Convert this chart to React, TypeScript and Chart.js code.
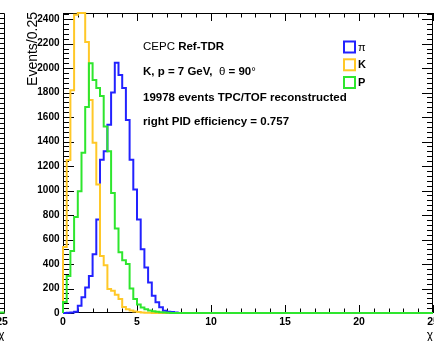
import React, { useEffect, useRef } from "react";
import { Chart, registerables } from "chart.js";

Chart.register(...registerables);

// ---- data ----
const BIN_WIDTH = 0.25;
const X_MIN = 0;
const X_MAX = 25;
const Y_MAX = 2450;

const xLabelTicks = [0, 5, 10, 15, 20, 25];
const xMinorStep = 1;
const yLabelTicks = [0, 200, 400, 600, 800, 1000, 1200, 1400, 1600, 1800, 2000, 2200, 2400];
const yMinorStep = 40;

// counts per 0.25 bin, starting at chi = 0
const piCounts = [0, 2, 5, 10, 60, 128, 209, 303, 480, 764, 1252, 1320, 1537, 1800, 2043, 1943, 1837, 1577, 1252, 1008, 764, 520, 371, 250, 141, 87, 46, 19, 10, 8, 5, 0];
const kCounts = [540, 1250, 1820, 2435, 2450, 2450, 2214, 1740, 1390, 1049, 466, 390, 195, 181, 150, 114, 49, 30, 20, 12, 8, 5, 3, 2, 0];
const pCounts = [90, 303, 507, 785, 994, 1309, 1683, 2040, 1902, 1837, 1772, 1523, 1320, 981, 690, 496, 430, 400, 200, 114, 70, 45, 30, 20, 15, 10, 6, 4, 2, 0];

const seriesNames = ["π", "K", "P"];
const seriesColors = ["#2222ff", "#ffc828", "#2ee62e"];

const yTitle = "Events/0.25";
const xTitle = "χ";

const FONT = '"Liberation Sans", Arial, Helvetica, sans-serif';

type Part = [string, boolean];
const infoLines: Part[][] = [
  [["CEPC ", false], ["Ref-TDR", true]],
  [["K, p = 7 GeV,  ", true], ["θ", false], [" = 90", true], ["°", false]],
  [["19978 events TPC/TOF reconstructed", true]],
  [["right PID efficiency = 0.757", true]],
];

function histPoints(counts: number[]) {
  const pts: { x: number; y: number }[] = [{ x: X_MIN, y: 0 }];
  counts.forEach((c, i) => pts.push({ x: X_MIN + i * BIN_WIDTH, y: c }));
  pts.push({ x: X_MIN + counts.length * BIN_WIDTH, y: 0 });
  pts.push({ x: X_MAX, y: 0 });
  return pts;
}

function drawRich(ctx: CanvasRenderingContext2D, x: number, y: number, parts: Part[], size: number) {
  let cx = x;
  ctx.textAlign = "left";
  ctx.textBaseline = "middle";
  for (const [t, b] of parts) {
    ctx.font = `${b ? "bold " : ""}${size}px ${FONT}`;
    ctx.fillText(t, cx, y);
    cx += ctx.measureText(t).width;
  }
}

const rootFramePlugin = {
  id: "rootFrame",
  beforeDatasetsDraw(chart: any) {
    const { ctx, chartArea: a, scales } = chart;
    const xs = scales.x;
    const ys = scales.y;
    ctx.save();
    ctx.fillStyle = "#000";
    ctx.strokeStyle = "#000";
    ctx.lineWidth = 1;
    ctx.strokeRect(a.left + 0.5, a.top + 0.5, a.right - a.left - 1, a.bottom - a.top - 1);
    ctx.beginPath();
    for (let v = 0; v <= Y_MAX; v += yMinorStep) {
      const y = Math.round(ys.getPixelForValue(v)) + 0.5;
      const len = yLabelTicks.includes(v) ? 11 : 6;
      ctx.moveTo(a.left, y);
      ctx.lineTo(a.left + len, y);
      ctx.moveTo(a.right, y);
      ctx.lineTo(a.right - len, y);
    }
    for (let v = X_MIN; v <= X_MAX; v += xMinorStep) {
      const x = Math.round(xs.getPixelForValue(v)) + 0.5;
      const len = xLabelTicks.includes(v) ? 8 : 4.5;
      ctx.moveTo(x, a.bottom);
      ctx.lineTo(x, a.bottom - len);
      ctx.moveTo(x, a.top);
      ctx.lineTo(x, a.top + len);
    }
    ctx.stroke();

    // tick labels
    ctx.font = `bold 10px ${FONT}`;
    ctx.textAlign = "right";
    ctx.textBaseline = "middle";
    yLabelTicks.forEach((v) => ctx.fillText(String(v), a.left - 3.5, ys.getPixelForValue(v)));
    ctx.font = `bold 10.5px ${FONT}`;
    ctx.textAlign = "center";
    xLabelTicks.forEach((v) => ctx.fillText(String(v), xs.getPixelForValue(v), a.bottom + 9));

    // axis titles
    ctx.font = `14px ${FONT}`;
    ctx.save();
    ctx.translate(36.5, a.top - 1);
    ctx.rotate(-Math.PI / 2);
    ctx.textAlign = "right";
    ctx.textBaseline = "alphabetic";
    ctx.fillText(yTitle, 0, 0);
    ctx.restore();
    ctx.font = `12px ${FONT}`;
    ctx.textAlign = "right";
    ctx.textBaseline = "middle";
    ctx.fillText(xTitle, a.right, 336);

    // neighbouring pad fragment at the far left
    ctx.beginPath();
    ctx.moveTo(4.5, a.top + 0.5);
    ctx.lineTo(4.5, a.bottom);
    ctx.moveTo(0, a.top + 0.5);
    ctx.lineTo(4.5, a.top + 0.5);
    for (let y = a.bottom - 0.5; y > a.top + 2; y -= 5) {
      ctx.moveTo(0, Math.round(y) + 0.5);
      ctx.lineTo(4.5, Math.round(y) + 0.5);
    }
    ctx.stroke();
    ctx.strokeStyle = seriesColors[2];
    ctx.lineWidth = 2;
    ctx.beginPath();
    ctx.moveTo(0, a.bottom - 0.5);
    ctx.lineTo(4.5, a.bottom - 0.5);
    ctx.stroke();
    ctx.font = `bold 10.5px ${FONT}`;
    ctx.textAlign = "center";
    ctx.fillText("25", 2, a.bottom + 9);
    ctx.font = `12px ${FONT}`;
    ctx.textAlign = "right";
    ctx.fillText(xTitle, 4.5, 336);
    ctx.restore();
  },
  afterDatasetsDraw(chart: any) {
    const { ctx } = chart;
    ctx.save();
    ctx.fillStyle = "#000";
    const lineY = [47.3, 71.7, 98.3, 121.7];
    infoLines.forEach((parts, i) => drawRich(ctx, 143, lineY[i], parts, 11.5));

    // legend
    const legY = [47, 64.8, 82.5];
    seriesNames.forEach((name, i) => {
      ctx.strokeStyle = seriesColors[i];
      ctx.lineWidth = 2;
      ctx.strokeRect(344, legY[i] - 5.5, 11, 11);
      ctx.fillStyle = "#000";
      ctx.font = `${i === 0 ? "" : "bold "}11px ${FONT}`;
      ctx.textAlign = "left";
      ctx.textBaseline = "middle";
      ctx.fillText(name, 358, legY[i] + 0.5);
    });
    ctx.restore();
  },
};

export default function App() {
  const canvasRef = useRef<HTMLCanvasElement | null>(null);

  useEffect(() => {
    const canvas = canvasRef.current;
    if (!canvas) return;
    const allCounts = [piCounts, kCounts, pCounts];
    const chart = new Chart(canvas, {
      type: "line",
      data: {
        datasets: allCounts.map((counts, i) => ({
          label: seriesNames[i],
          data: histPoints(counts),
          borderColor: seriesColors[i],
          backgroundColor: seriesColors[i],
          borderWidth: 2,
          stepped: true,
          fill: false,
          pointRadius: 0,
          order: 2 - i,
          clip: { left: 1, right: 1, top: 1, bottom: 1 },
        })),
      },
      options: {
        animation: false,
        responsive: false,
        maintainAspectRatio: false,
        parsing: false,
        normalized: true,
        events: [],
        layout: { padding: { left: 63, top: 13, right: 1, bottom: 28 } },
        plugins: { legend: { display: false }, tooltip: { enabled: false } },
        scales: {
          x: { type: "linear", min: X_MIN, max: X_MAX, display: false },
          y: { type: "linear", min: 0, max: Y_MAX, display: false },
        },
      },
      plugins: [rootFramePlugin],
    } as any);
    return () => chart.destroy();
  }, []);

  return (
    <div style={{ position: "fixed", left: 0, top: 0, width: 434, height: 341, background: "#fff" }}>
      <canvas ref={canvasRef} width={434} height={341} style={{ display: "block" }} />
    </div>
  );
}
